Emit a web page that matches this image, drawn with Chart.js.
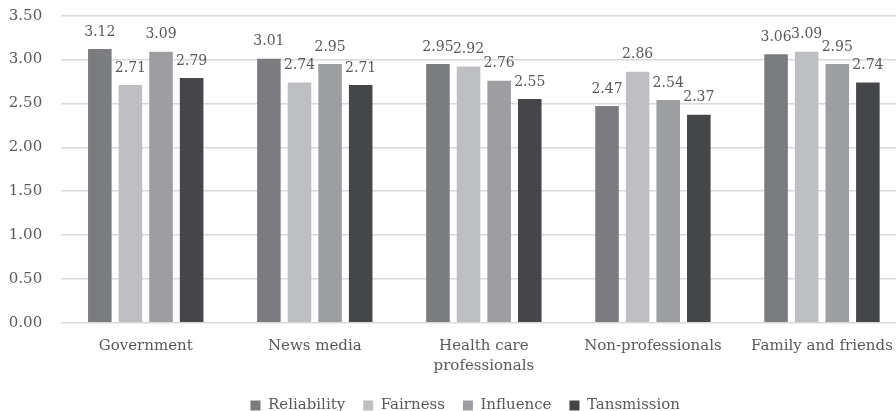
<!DOCTYPE html>
<html>
<head>
<meta charset="utf-8">
<script src="https://cdn.jsdelivr.net/npm/chart.js@4/dist/chart.umd.min.js"></script>
<style>
html,body{margin:0;padding:0;background:#fff;overflow:hidden;width:896px;height:411px;}
#wrap{position:absolute;left:0;top:0;width:907px;height:423px;}
</style>
</head>
<body>
<div id="wrap"><canvas id="c" width="907" height="423"></canvas></div>
<script>
const categories = ['Government', 'News media', ['Health care', 'professionals'], 'Non-professionals', 'Family and friends'];
const seriesNames = ['Reliability', 'Fairness', 'Influence', 'Tansmission'];
const reliability = [3.12, 3.01, 2.95, 2.47, 3.06];
const fairness = [2.71, 2.74, 2.92, 2.86, 3.09];
const influence = [3.09, 2.95, 2.76, 2.54, 2.95];
const transmission = [2.79, 2.71, 2.55, 2.37, 2.74];
const seriesColors = ['#7b7c7f', '#bebfc2', '#9d9ea1', '#45464a'];
const yTicks = [0, 0.5, 1, 1.5, 2, 2.5, 3, 3.5];

const FONT = "'DejaVu Serif', serif";
const TXT = '#595959';

const labelPlugin = {
  id: 'barLabels',
  afterDatasetsDraw(chart) {
    const ctx = chart.ctx;
    ctx.save();
    ctx.font = '14px ' + FONT;
    ctx.fillStyle = TXT;
    ctx.textAlign = 'center';
    ctx.textBaseline = 'middle';
    chart.data.datasets.forEach((ds, i) => {
      const meta = chart.getDatasetMeta(i);
      meta.data.forEach((bar, j) => {
        ctx.fillText(ds.data[j].toFixed(2), bar.x, bar.y - 17);
      });
    });
    ctx.restore();
  }
};

const legendShift = {
  id: 'legendShift',
  afterLayout(chart) {
    if (chart.legend) { chart.legend.left += 12; chart.legend.right += 12; }
  }
};

const allSeries = [reliability, fairness, influence, transmission];

new Chart(document.getElementById('c'), {
  type: 'bar',
  data: {
    labels: categories,
    datasets: allSeries.map((d, i) => ({
      label: seriesNames[i],
      data: d,
      backgroundColor: seriesColors[i],
      borderWidth: 0,
      categoryPercentage: 0.724,
      barPercentage: 0.77
    }))
  },
  options: {
    responsive: false,
    devicePixelRatio: 1,
    animation: false,
    layout: { padding: { left: 0, right: 0.5, top: 15.7, bottom: 0 } },
    plugins: {
      legend: {
        position: 'bottom',
        labels: {
          boxWidth: 10,
          boxHeight: 10,
          padding: 18,
          color: TXT,
          font: { family: FONT, size: 15 }
        }
      },
      tooltip: { enabled: false }
    },
    scales: {
      x: {
        grid: { display: false, drawTicks: false },
        border: { display: false },
        ticks: {
          color: TXT,
          padding: 13,
          maxRotation: 0,
          autoSkip: false,
          font: { family: FONT, size: 15, lineHeight: 1.33 }
        },
        afterFit(s) { s.height = 57.2; }
      },
      y: {
        min: 0,
        max: 3.5,
        afterBuildTicks(s) { s.ticks = yTicks.map(v => ({ value: v })); },
        grid: { color: '#d9d9d9', lineWidth: 1.5, drawTicks: false },
        border: { display: false },
        ticks: {
          color: TXT,
          padding: 19,
          font: { family: FONT, size: 15 },
          callback: v => Number(v).toFixed(2)
        },
        afterFit(s) { s.width = 61.2; s.paddingTop = 0; s.paddingBottom = 0; }
      }
    }
  },
  plugins: [labelPlugin, legendShift]
});
</script>
</body>
</html>
